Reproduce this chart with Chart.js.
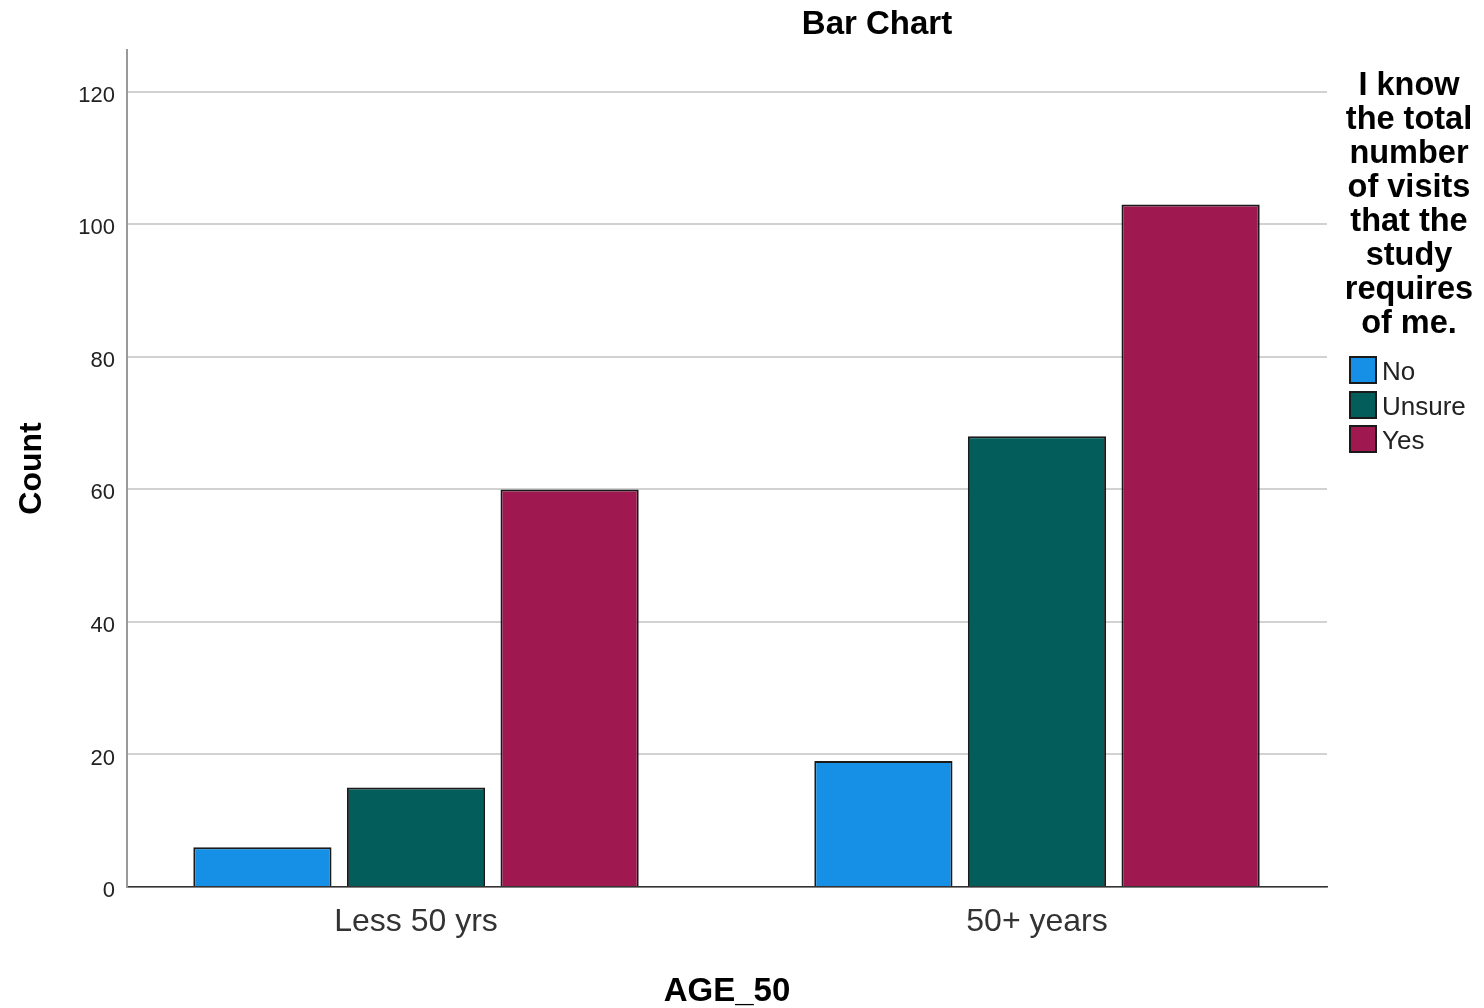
<!DOCTYPE html>
<html><head><meta charset="utf-8">
<script src="https://cdn.jsdelivr.net/npm/chart.js@4"></script>
<style>html,body{margin:0;padding:0;background:#fff}</style>
</head><body>
<canvas id="c" width="1484" height="1008"></canvas>
<script>
const categories = ['Less 50 yrs', '50+ years'];
const seriesNames = ['No', 'Unsure', 'Yes'];
const noValues = [6, 19];
const unsureValues = [15, 68];
const yesValues = [60, 103];
const yTicks = [0, 20, 40, 60, 80, 100, 120];
const chartTitle = 'Bar Chart';
const xTitle = 'AGE_50';
const yTitle = 'Count';
const legendTitleLines = ['I know', 'the total', 'number', 'of visits', 'that the', 'study', 'requires', 'of me.'];
const seriesColors = ['#1590e6', '#025d5b', '#9f1850'];

const FONT = '"Liberation Sans", Arial, sans-serif';
const seriesValues = [noValues, unsureValues, yesValues];

const datasets = seriesNames.map((name, s) => ({
  label: name,
  data: seriesValues[s].map((v, i) => ({x: i, y: v})),
  backgroundColor: seriesColors[s],
  borderColor: '#1a1a1a',
  borderWidth: 2,
  categoryPercentage: 0.742,
  barPercentage: 0.9
}));

const decor = {
  id: 'decor',
  afterDraw(chart) {
    const ctx = chart.ctx;
    ctx.save();
    ctx.fillStyle = '#000';
    ctx.textAlign = 'center';
    ctx.textBaseline = 'middle';
    ctx.font = 'bold 33px ' + FONT;
    ctx.fillText(chartTitle, 877, 25);
    ctx.font = 'bold 32.5px ' + FONT;
    legendTitleLines.forEach((t, i) => ctx.fillText(t, 1409, 86 + i * 34));
    const tops = [357, 392, 426];
    seriesNames.forEach((name, s) => {
      ctx.fillStyle = seriesColors[s];
      ctx.fillRect(1350, tops[s], 26, 26);
      ctx.strokeStyle = '#1a1a1a';
      ctx.lineWidth = 2;
      ctx.strokeRect(1350, tops[s], 26, 26);
      ctx.fillStyle = '#222';
      ctx.textAlign = 'left';
      ctx.font = '26px ' + FONT;
      ctx.fillText(name, 1382, tops[s] + 16);
    });
    ctx.restore();
  }
};

new Chart(document.getElementById('c'), {
  type: 'bar',
  data: {datasets},
  options: {
    responsive: false,
    animation: false,
    devicePixelRatio: 1,
    layout: {padding: {left: 0, top: 50, right: 157, bottom: 0}},
    plugins: {legend: {display: false}, tooltip: {enabled: false}, title: {display: false}},
    scales: {
      x: {
        type: 'linear',
        offset: false,
        min: -0.4654,
        max: 1.4670,
        afterBuildTicks: s => { s.ticks = categories.map((c, i) => ({value: i})); },
        afterFit: s => { s.height = 121; },
        grid: {display: false, drawTicks: false, offset: false},
        border: {display: true, color: '#333', width: 1.5},
        ticks: {
          autoSkip: false,
          maxRotation: 0,
          padding: 16,
          color: '#333',
          font: {family: FONT, size: 32},
          callback: v => categories[v] ?? ''
        },
        title: {display: true, text: xTitle, color: '#000', font: {family: FONT, size: 33, weight: 'bold', lineHeight: 1}, padding: {top: 3.5, bottom: 0}}
      },
      y: {
        min: 0,
        max: 126.3,
        afterBuildTicks: s => { s.ticks = yTicks.map(v => ({value: v})); },
        afterFit: s => { s.width = 127; },
        grid: {color: '#d2d2d2', lineWidth: 2, drawTicks: false},
        border: {display: true, color: '#999', width: 2},
        ticks: {padding: 12, labelOffset: 4, color: '#222', font: {family: FONT, size: 22}},
        title: {display: true, text: yTitle, color: '#000', font: {family: FONT, size: 32, weight: 'bold', lineHeight: 1}, padding: {top: 16, bottom: 0}}
      }
    }
  },
  plugins: [decor]
});
</script>
</body></html>
